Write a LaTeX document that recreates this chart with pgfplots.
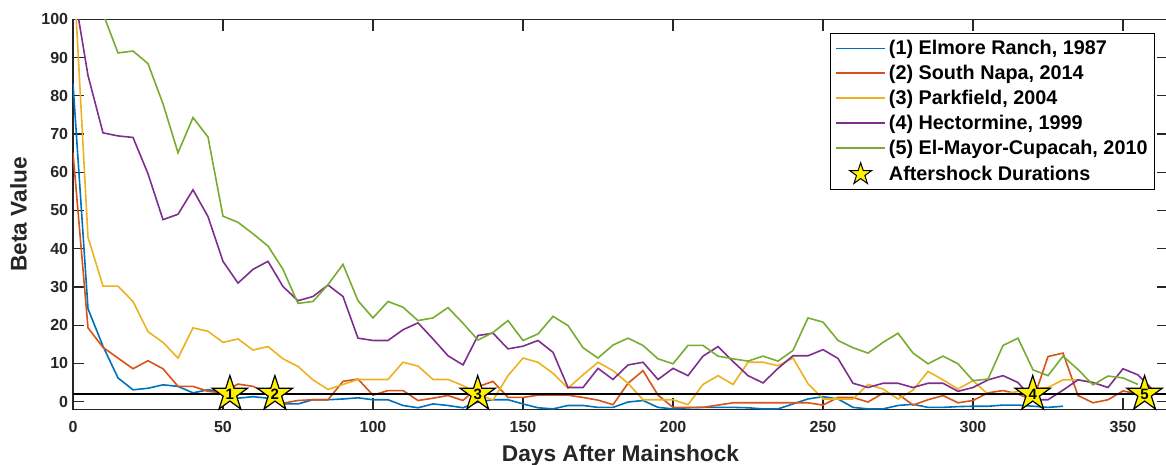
\documentclass[border=0pt]{standalone}
\usepackage{fontspec}
\setmainfont{Liberation Sans}
\usepackage{pgfplots}
\pgfplotsset{compat=1.18}
\definecolor{mblue}{rgb}{0,0.447,0.741}
\definecolor{mred}{rgb}{0.850,0.325,0.098}
\definecolor{myellow}{rgb}{0.929,0.694,0.125}
\definecolor{mpurple}{rgb}{0.494,0.184,0.556}
\definecolor{mgreen}{rgb}{0.466,0.674,0.188}
\definecolor{axgray}{rgb}{0.15,0.15,0.15}
\pgfdeclareplotmark{fstar}{%
  \pgfpathmoveto{\pgfpointpolar{90}{\pgfplotmarksize}}%
  \pgfpathlineto{\pgfpointpolar{126}{0.382\pgfplotmarksize}}%
  \pgfpathlineto{\pgfpointpolar{162}{\pgfplotmarksize}}%
  \pgfpathlineto{\pgfpointpolar{198}{0.382\pgfplotmarksize}}%
  \pgfpathlineto{\pgfpointpolar{234}{\pgfplotmarksize}}%
  \pgfpathlineto{\pgfpointpolar{270}{0.382\pgfplotmarksize}}%
  \pgfpathlineto{\pgfpointpolar{306}{\pgfplotmarksize}}%
  \pgfpathlineto{\pgfpointpolar{342}{0.382\pgfplotmarksize}}%
  \pgfpathlineto{\pgfpointpolar{18}{\pgfplotmarksize}}%
  \pgfpathlineto{\pgfpointpolar{54}{0.382\pgfplotmarksize}}%
  \pgfpathclose
  \pgfusepathqfillstroke
}
\pgfplotstableread{
x y
0 83.2
5 24.3
10 14.5
15 6.2
20 3.1
25 3.5
30 4.4
35 4.0
40 2.3
45 3.1
50 2.6
55 0.9
60 1.3
65 0.9
70 -0.6
75 -0.6
80 0.5
85 0.5
90 0.7
95 1.0
100 0.5
105 0.5
110 -1.0
115 -1.6
120 -0.6
125 -1.0
130 -1.6
135 -0.1
140 0.5
145 0.5
150 -0.6
155 -1.6
160 -1.9
165 -1.0
170 -1.0
175 -1.5
180 -1.5
185 -0.1
190 0.3
195 -1.5
200 -1.9
205 -1.6
210 -1.5
215 -1.5
220 -1.5
225 -1.6
230 -1.9
235 -1.9
240 -0.6
245 0.7
250 1.3
255 0.7
260 -1.5
265 -1.9
270 -1.9
275 -1.0
280 -0.7
285 -1.5
290 -1.5
295 -1.3
300 -1.2
305 -1.2
310 -0.9
315 -0.9
320 -1.2
325 -1.5
330 -1.2
}\elmore
\pgfplotstableread{
x y
0 65.1
5 19.3
10 14.2
15 11.4
20 8.6
25 10.7
30 8.6
35 4.0
40 4.0
45 2.7
50 2.3
55 4.6
60 4.0
65 2.2
70 -0.4
75 0.3
80 0.5
85 0.5
90 5.3
95 5.9
100 1.7
105 2.9
110 2.9
115 0.3
120 0.9
125 1.6
130 0.3
135 3.9
140 5.3
145 1.1
150 1.1
155 1.7
160 1.7
165 1.7
170 1.1
175 0.4
180 -0.8
185 4.8
190 8.1
195 1.7
200 -1.5
205 -1.5
210 -1.5
215 -0.9
220 -0.3
225 -0.3
230 -0.3
235 -0.3
240 -0.3
245 -0.3
250 -0.9
255 1.1
260 1.1
265 -0.1
270 2.2
275 2.0
280 -0.9
285 0.5
290 1.6
295 -0.3
300 0.3
305 2.3
310 2.9
315 2.0
320 0.3
325 11.8
330 12.7
335 1.6
340 -0.3
345 0.5
350 2.8
355 2.0
}\napa
\pgfplotstableread{
x y
0 116
5 43.0
10 30.2
15 30.2
20 26.2
25 18.3
30 15.5
35 11.4
40 19.3
45 18.4
50 15.5
55 16.4
60 13.5
65 14.4
70 11.2
75 9.2
80 5.7
85 3.2
90 4.5
95 5.8
100 5.8
105 5.8
110 10.3
115 9.3
120 5.8
125 5.8
130 4.2
135 2.0
140 0.4
145 6.8
150 11.4
155 10.3
160 7.4
165 3.5
170 7.0
175 10.3
180 8.1
185 4.8
190 0.5
195 0.5
200 0.5
205 -0.8
210 4.5
215 6.8
220 4.5
225 10.3
230 10.3
235 9.4
240 11.4
245 4.7
250 0.7
255 0.7
260 0.7
265 4.5
270 3.3
275 0.7
280 3.0
285 7.9
290 5.7
295 3.3
300 5.5
305 1.9
310 1.9
315 2.7
320 3.3
325 3.7
330 5.7
335 5.7
340 5.0
}\parkfield
\pgfplotstableread{
x y
0 109
5 85.3
10 70.3
15 69.5
20 69.1
25 59.6
30 47.6
35 49.0
40 55.4
45 48.4
50 36.7
55 31.0
60 34.6
65 36.7
70 30.1
75 26.4
80 27.5
85 30.5
90 27.5
95 16.6
100 16.0
105 16.0
110 18.8
115 20.6
120 16.4
125 12.0
130 9.6
135 17.3
140 17.9
145 13.8
150 14.5
155 16.0
160 12.9
165 3.7
170 3.7
175 8.7
180 5.8
185 9.6
190 10.3
195 5.8
200 8.7
205 6.8
210 11.9
215 14.4
220 10.5
225 6.8
230 4.9
235 8.7
240 12.0
245 12.0
250 13.6
255 11.3
260 4.8
265 3.7
270 4.8
275 4.8
280 3.7
285 4.8
290 4.8
295 2.7
300 3.7
305 5.7
310 6.8
315 5.0
320 0.5
325 0.5
330 3.0
335 5.7
340 5.0
345 3.7
350 8.6
355 7.0
360 3.0
}\hector
\pgfplotstableread{
x y
0 140
5 120
10 101.5
15 91.2
20 91.7
25 88.4
30 77.9
35 65.1
40 74.3
45 69.2
50 48.5
55 46.9
60 43.9
65 40.7
70 34.6
75 25.7
80 26.2
85 30.6
90 35.9
95 26.4
100 21.9
105 26.2
110 24.7
115 21.2
120 21.9
125 24.6
130 20.5
135 16.1
140 18.1
145 21.2
150 16.0
155 17.7
160 22.3
165 19.9
170 14.1
175 11.4
180 14.8
185 16.6
190 14.7
195 11.2
200 9.9
205 14.7
210 14.7
215 11.9
220 11.2
225 10.6
230 11.9
235 10.6
240 13.4
245 21.9
250 20.8
255 16.0
260 14.1
265 12.7
270 15.5
275 17.9
280 12.7
285 9.9
290 11.9
295 9.9
300 5.5
305 5.9
310 14.7
315 16.6
320 8.3
325 6.8
330 11.9
335 8.4
340 4.4
345 6.7
350 6.2
355 4.5
}\elmayor
\pgfplotstableread{
x y lab
52.3 2 1
67.3 2 2
134.9 2 3
319.9 2 4
357.2 2 5
}\stars
\begin{document}
\begin{tikzpicture}
\begin{axis}[name=ax, scale only axis, width=1095pt, height=390pt,
  xmin=0, xmax=365, ymin=-2, ymax=100,
  xtick={0,50,...,350}, ytick={0,10,...,100},
  tick align=inside, major tick length=11.5pt,
  axis line style={line width=1.2pt, color=axgray},
  every tick/.style={line width=1.2pt, color=axgray},
  /pgf/number format/assume math mode=true,
  ticklabel style={font=\fontsize{16}{19}\selectfont\bfseries, text=axgray},
  xticklabel style={anchor=base, yshift=-23.3pt},
  yticklabel style={anchor=east, inner sep=0pt, xshift=-4.7pt},
  xlabel={Days After Mainshock}, ylabel={Beta Value},
  xlabel style={at={(axis description cs:0.5,-0.1326)}, anchor=base, font=\fontsize{22.7}{26}\selectfont\bfseries, text=axgray},
  ylabel style={at={(axis description cs:-0.0423,0.5)}, anchor=base, font=\fontsize{22.7}{26}\selectfont\bfseries, text=axgray},
  legend style={at={(axis description cs:1,1)}, anchor=north east, xshift=-13pt, yshift=-13.7pt,
    draw=black, line width=0.9pt, fill=white, font=\fontsize{19.8}{22}\selectfont\bfseries,
    inner xsep=5pt, inner ysep=5pt, row sep=5pt, column sep=1pt},
  legend cell align=left,
  legend image code/.code={\draw[#1, line width=1.6pt] (0pt,0pt) -- (49pt,0pt);},
]
\addplot[mblue, line width=1.6pt] table {\elmore};
\addlegendentry{(1) Elmore Ranch, 1987}
\addplot[mred, line width=1.6pt] table {\napa};
\addlegendentry{(2) South Napa, 2014}
\addplot[myellow, line width=1.6pt] table {\parkfield};
\addlegendentry{(3) Parkfield, 2004}
\addplot[mpurple, line width=1.6pt] table {\hector};
\addlegendentry{(4) Hectormine, 1999}
\addplot[mgreen, line width=1.6pt] table {\elmayor};
\addlegendentry{(5) El-Mayor-Cupacah, 2010}
\addplot[black, line width=1.4pt, forget plot] coordinates {(0,2) (365,2)};
\addplot[only marks, mark=fstar, mark size=18.5pt,
  mark options={fill=yellow, draw=black, line width=1.2pt},
  nodes near coords, point meta=explicit symbolic,
  every node near coord/.append style={anchor=center, inner sep=0pt, font=\fontsize{15}{17}\selectfont\bfseries, text=black},
  legend image code/.code={\draw[only marks, mark=fstar, mark size=11.5pt, mark options={fill=yellow, draw=black, line width=1pt}] plot coordinates {(24.5pt,0pt)};}
] table[x=x, y=y, meta=lab] {\stars};
\addlegendentry{Aftershock Durations}
\end{axis}
\pgfresetboundingbox
\path[use as bounding box] ([xshift=-73pt,yshift=-55pt]ax.south west) rectangle ([xshift=-2pt,yshift=19.3pt]ax.north east);
\end{tikzpicture}
\end{document}
